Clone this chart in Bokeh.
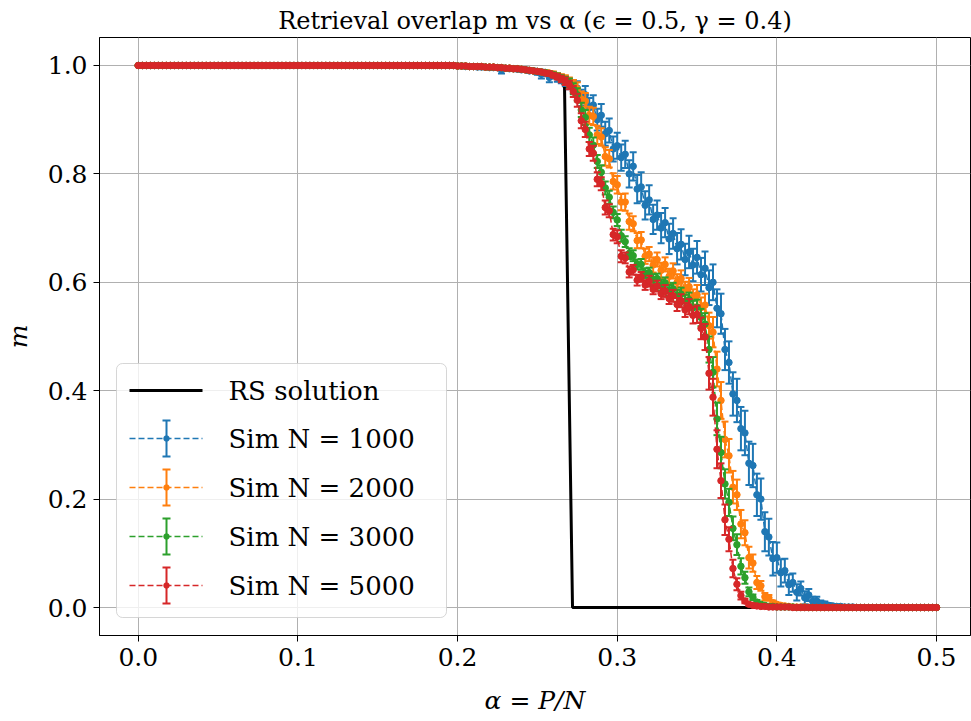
import numpy as np
from bokeh.plotting import figure
from bokeh.models import (Range1d, FixedTicker, NumeralTickFormatter, BoxAnnotation,
                          Label, Arrow, TeeHead)
from bokeh.embed import file_html
from bokeh.resources import INLINE

FONT = "DejaVu Serif"

# ---------------- data ----------------
# alpha grid: 0.0000 ... 0.5000, step 0.0025 (201 points)
alpha = np.round(np.arange(201) * 0.0025, 4)

# flat head (alpha 0.0000 - 0.1975): all simulations retrieve perfectly
m_head = [1.0, 1.0, 1.0, 1.0, 1.0, 1.0, 1.0, 1.0, 1.0, 1.0,
          1.0, 1.0, 1.0, 1.0, 1.0, 1.0, 1.0, 1.0, 1.0, 1.0,
          1.0, 1.0, 1.0, 1.0, 1.0, 1.0, 1.0, 1.0, 1.0, 1.0,
          1.0, 1.0, 1.0, 1.0, 1.0, 1.0, 1.0, 1.0, 1.0, 1.0,
          1.0, 1.0, 1.0, 1.0, 1.0, 1.0, 1.0, 1.0, 1.0, 1.0,
          1.0, 1.0, 1.0, 1.0, 1.0, 1.0, 1.0, 1.0, 1.0, 1.0,
          1.0, 1.0, 1.0, 1.0, 1.0, 1.0, 1.0, 1.0, 1.0, 1.0,
          1.0, 1.0, 1.0, 1.0, 1.0, 1.0, 1.0, 1.0, 1.0, 1.0]
e_head = [0.0, 0.0, 0.0, 0.0, 0.0, 0.0, 0.0, 0.0, 0.0, 0.0,
          0.0, 0.0, 0.0, 0.0, 0.0, 0.0, 0.0, 0.0, 0.0, 0.0,
          0.0, 0.0, 0.0, 0.0, 0.0, 0.0, 0.0, 0.0, 0.0, 0.0,
          0.0, 0.0, 0.0, 0.0, 0.0, 0.0, 0.0, 0.0, 0.0, 0.0,
          0.0, 0.0, 0.0, 0.0, 0.0, 0.0, 0.0, 0.0, 0.0, 0.0,
          0.0, 0.0, 0.0, 0.0, 0.0, 0.0, 0.0, 0.0, 0.0, 0.0,
          0.0, 0.0, 0.0, 0.0, 0.0, 0.0, 0.0, 0.0, 0.0, 0.0,
          0.0, 0.0, 0.0, 0.0, 0.0, 0.0, 0.0, 0.0, 0.0, 0.0]
# flat tail (alpha 0.4525 - 0.5000)
m_tail = [0.0, 0.0, 0.0, 0.0, 0.0, 0.0, 0.0, 0.0, 0.0, 0.0,
          0.0, 0.0, 0.0, 0.0, 0.0, 0.0, 0.0, 0.0, 0.0, 0.0]
e_tail = [0.0, 0.0, 0.0, 0.0, 0.0, 0.0, 0.0, 0.0, 0.0, 0.0,
          0.0, 0.0, 0.0, 0.0, 0.0, 0.0, 0.0, 0.0, 0.0, 0.0]

# transition region alpha 0.2000 - 0.4500 (101 points), rows of 10
m_1000 = [0.999, 0.999, 0.998, 0.998, 0.998, 0.997, 0.997, 0.997, 0.996, 0.996,
          0.996, 0.992, 0.995, 0.994, 0.994, 0.993, 0.992, 0.992, 0.990, 0.990,
          0.988, 0.984, 0.986, 0.978, 0.982, 0.978, 0.975, 0.971, 0.966, 0.961,
          0.958, 0.940, 0.946, 0.922, 0.927, 0.900, 0.908, 0.874, 0.880, 0.846,
          0.852, 0.830, 0.836, 0.800, 0.814, 0.772, 0.776, 0.742, 0.752, 0.716,
          0.724, 0.700, 0.710, 0.680, 0.690, 0.662, 0.670, 0.642, 0.656, 0.632,
          0.646, 0.614, 0.626, 0.590, 0.600, 0.552, 0.542, 0.476, 0.452, 0.394,
          0.382, 0.330, 0.322, 0.266, 0.262, 0.208, 0.200, 0.140, 0.130, 0.090,
          0.092, 0.064, 0.068, 0.042, 0.046, 0.028, 0.035, 0.018, 0.023, 0.011,
          0.012, 0.007, 0.006, 0.004, 0.003, 0.002, 0.002, 0.001, 0.001, 0.001,
          0.000]
e_1000 = [0.001, 0.001, 0.002, 0.001, 0.002, 0.002, 0.002, 0.002, 0.002, 0.002,
          0.002, 0.007, 0.002, 0.003, 0.003, 0.003, 0.003, 0.004, 0.004, 0.004,
          0.005, 0.008, 0.005, 0.009, 0.006, 0.008, 0.008, 0.009, 0.010, 0.012,
          0.013, 0.015, 0.016, 0.018, 0.018, 0.020, 0.021, 0.022, 0.022, 0.023,
          0.024, 0.024, 0.025, 0.025, 0.026, 0.026, 0.027, 0.026, 0.027, 0.027,
          0.027, 0.028, 0.027, 0.028, 0.028, 0.029, 0.028, 0.029, 0.030, 0.030,
          0.030, 0.031, 0.031, 0.032, 0.033, 0.035, 0.037, 0.038, 0.039, 0.040,
          0.040, 0.040, 0.041, 0.040, 0.040, 0.039, 0.038, 0.036, 0.034, 0.031,
          0.028, 0.025, 0.022, 0.019, 0.017, 0.015, 0.013, 0.012, 0.011, 0.009,
          0.008, 0.006, 0.005, 0.004, 0.003, 0.002, 0.002, 0.001, 0.001, 0.001,
          0.001]

m_2000 = [0.999, 0.999, 0.999, 0.998, 0.998, 0.998, 0.998, 0.997, 0.997, 0.997,
          0.996, 0.996, 0.995, 0.995, 0.994, 0.994, 0.993, 0.992, 0.991, 0.990,
          0.989, 0.988, 0.987, 0.986, 0.984, 0.981, 0.978, 0.975, 0.970, 0.963,
          0.957, 0.938, 0.934, 0.908, 0.906, 0.872, 0.868, 0.832, 0.828, 0.786,
          0.780, 0.748, 0.748, 0.712, 0.708, 0.677, 0.678, 0.648, 0.652, 0.632,
          0.642, 0.622, 0.633, 0.611, 0.621, 0.600, 0.607, 0.585, 0.592, 0.570,
          0.577, 0.553, 0.558, 0.520, 0.508, 0.440, 0.382, 0.310, 0.280, 0.222,
          0.208, 0.154, 0.138, 0.092, 0.082, 0.046, 0.040, 0.020, 0.018, 0.009,
          0.006, 0.004, 0.003, 0.002, 0.001, 0.001, 0.001, 0.001, 0.000, 0.000,
          0.000, 0.000, 0.000, 0.000, 0.000, 0.000, 0.000, 0.000, 0.000, 0.000,
          0.000]
e_2000 = [0.001, 0.001, 0.001, 0.001, 0.001, 0.001, 0.001, 0.001, 0.001, 0.001,
          0.001, 0.001, 0.001, 0.001, 0.002, 0.002, 0.002, 0.002, 0.002, 0.002,
          0.003, 0.003, 0.004, 0.004, 0.005, 0.005, 0.006, 0.007, 0.008, 0.010,
          0.012, 0.014, 0.015, 0.016, 0.016, 0.017, 0.016, 0.017, 0.016, 0.015,
          0.016, 0.015, 0.016, 0.015, 0.014, 0.014, 0.015, 0.014, 0.013, 0.014,
          0.013, 0.014, 0.013, 0.014, 0.014, 0.015, 0.015, 0.016, 0.016, 0.017,
          0.018, 0.019, 0.021, 0.024, 0.028, 0.032, 0.034, 0.033, 0.031, 0.030,
          0.028, 0.026, 0.023, 0.020, 0.016, 0.012, 0.009, 0.007, 0.005, 0.004,
          0.003, 0.002, 0.002, 0.001, 0.001, 0.001, 0.001, 0.001, 0.001, 0.001,
          0.001, 0.001, 0.001, 0.001, 0.001, 0.001, 0.001, 0.001, 0.001, 0.001,
          0.001]

m_3000 = [0.999, 0.999, 0.999, 0.998, 0.998, 0.998, 0.998, 0.997, 0.997, 0.997,
          0.996, 0.996, 0.995, 0.995, 0.994, 0.994, 0.993, 0.992, 0.991, 0.990,
          0.989, 0.988, 0.987, 0.985, 0.983, 0.980, 0.977, 0.973, 0.968, 0.957,
          0.946, 0.918, 0.904, 0.872, 0.853, 0.823, 0.803, 0.774, 0.757, 0.729,
          0.715, 0.686, 0.675, 0.653, 0.649, 0.633, 0.633, 0.617, 0.618, 0.605,
          0.607, 0.595, 0.599, 0.585, 0.588, 0.575, 0.578, 0.565, 0.568, 0.553,
          0.554, 0.535, 0.523, 0.476, 0.434, 0.348, 0.286, 0.228, 0.194, 0.146,
          0.116, 0.076, 0.055, 0.029, 0.019, 0.010, 0.006, 0.004, 0.002, 0.002,
          0.001, 0.001, 0.001, 0.001, 0.001, 0.000, 0.000, 0.000, 0.000, 0.000,
          0.000, 0.000, 0.000, 0.000, 0.000, 0.000, 0.000, 0.000, 0.000, 0.000,
          0.000]
e_3000 = [0.001, 0.001, 0.001, 0.001, 0.001, 0.001, 0.001, 0.001, 0.001, 0.001,
          0.001, 0.001, 0.001, 0.001, 0.002, 0.002, 0.002, 0.002, 0.002, 0.002,
          0.003, 0.003, 0.003, 0.004, 0.004, 0.005, 0.005, 0.006, 0.008, 0.010,
          0.012, 0.013, 0.014, 0.013, 0.014, 0.012, 0.013, 0.012, 0.012, 0.011,
          0.011, 0.011, 0.010, 0.010, 0.010, 0.009, 0.010, 0.009, 0.009, 0.010,
          0.009, 0.010, 0.010, 0.010, 0.011, 0.011, 0.012, 0.012, 0.013, 0.013,
          0.014, 0.016, 0.020, 0.024, 0.028, 0.030, 0.029, 0.027, 0.025, 0.022,
          0.019, 0.015, 0.011, 0.008, 0.005, 0.004, 0.003, 0.002, 0.002, 0.001,
          0.001, 0.001, 0.001, 0.001, 0.001, 0.001, 0.001, 0.001, 0.001, 0.001,
          0.001, 0.001, 0.001, 0.001, 0.001, 0.001, 0.001, 0.001, 0.001, 0.001,
          0.001]

m_5000 = [0.999, 0.999, 0.999, 0.998, 0.998, 0.998, 0.998, 0.997, 0.997, 0.997,
          0.996, 0.996, 0.995, 0.995, 0.994, 0.994, 0.993, 0.992, 0.991, 0.990,
          0.989, 0.988, 0.986, 0.985, 0.982, 0.979, 0.975, 0.971, 0.964, 0.952,
          0.936, 0.898, 0.882, 0.846, 0.838, 0.790, 0.782, 0.738, 0.732, 0.688,
          0.684, 0.648, 0.645, 0.619, 0.623, 0.604, 0.610, 0.595, 0.602, 0.587,
          0.593, 0.579, 0.584, 0.570, 0.575, 0.559, 0.566, 0.549, 0.555, 0.539,
          0.541, 0.515, 0.499, 0.432, 0.388, 0.292, 0.234, 0.162, 0.126, 0.072,
          0.043, 0.022, 0.012, 0.006, 0.004, 0.003, 0.002, 0.002, 0.001, 0.001,
          0.001, 0.001, 0.001, 0.001, 0.000, 0.000, 0.000, 0.000, 0.000, 0.000,
          0.000, 0.000, 0.000, 0.000, 0.000, 0.000, 0.000, 0.000, 0.000, 0.000,
          0.000]
e_5000 = [0.001, 0.001, 0.001, 0.001, 0.001, 0.001, 0.001, 0.001, 0.001, 0.001,
          0.001, 0.001, 0.001, 0.001, 0.002, 0.002, 0.002, 0.002, 0.002, 0.002,
          0.003, 0.003, 0.003, 0.004, 0.004, 0.005, 0.006, 0.007, 0.008, 0.010,
          0.012, 0.014, 0.014, 0.013, 0.014, 0.013, 0.012, 0.013, 0.012, 0.011,
          0.012, 0.011, 0.010, 0.010, 0.009, 0.010, 0.009, 0.009, 0.010, 0.009,
          0.010, 0.010, 0.011, 0.010, 0.011, 0.012, 0.012, 0.013, 0.014, 0.015,
          0.016, 0.020, 0.024, 0.030, 0.034, 0.035, 0.032, 0.028, 0.022, 0.016,
          0.011, 0.007, 0.004, 0.003, 0.002, 0.002, 0.001, 0.001, 0.001, 0.001,
          0.001, 0.001, 0.001, 0.001, 0.001, 0.001, 0.001, 0.001, 0.001, 0.001,
          0.001, 0.001, 0.001, 0.001, 0.001, 0.001, 0.001, 0.001, 0.001, 0.001,
          0.001]

# replica-symmetric theory curve
rs_alpha = [0.0, 0.05, 0.10, 0.15, 0.20, 0.22, 0.24, 0.25, 0.26, 0.265, 0.267,
            0.272, 0.30, 0.35, 0.40, 0.45, 0.50]
rs_m = [1.0, 1.0, 1.0, 1.0, 0.999, 0.997, 0.993, 0.989, 0.982, 0.972, 0.959,
        0.0, 0.0, 0.0, 0.0, 0.0, 0.0]

series_labels = ["Sim N = 1000", "Sim N = 2000", "Sim N = 3000", "Sim N = 5000"]
series_colors = ["#1f77b4", "#ff7f0e", "#2ca02c", "#d62728"]
series_m = [m_1000, m_2000, m_3000, m_5000]
series_e = [e_1000, e_2000, e_3000, e_5000]

x_ticks = [0.0, 0.1, 0.2, 0.3, 0.4, 0.5]
y_ticks = [0.0, 0.2, 0.4, 0.6, 0.8, 1.0]

title_text = "Retrieval overlap m vs α (ϵ = 0.5, γ = 0.4)"

# ---------------- figure ----------------
p = figure(width=971, height=721, output_backend="svg", toolbar_location=None,
           x_range=Range1d(-0.0243, 0.5213), y_range=Range1d(-0.0516, 1.0516),
           min_border_left=95, min_border_right=1, min_border_top=37,
           min_border_bottom=86)
p.background_fill_color = "white"
p.border_fill_color = "white"
p.outline_line_color = "black"
p.outline_line_width = 1
p.outline_line_alpha = 1.0

p.title.text = title_text
p.title.align = "center"
p.title.text_font = FONT
p.title.text_font_size = "24px"
p.title.text_font_style = "normal"
p.title.text_color = "black"
p.title.standoff = 5

p.xaxis.ticker = FixedTicker(ticks=x_ticks)
p.yaxis.ticker = FixedTicker(ticks=y_ticks)
p.axis.formatter = NumeralTickFormatter(format="0.0")
p.axis.minor_tick_line_color = None
p.axis.major_tick_in = 0
p.axis.major_tick_out = 6
p.axis.major_tick_line_color = "black"
p.axis.axis_line_color = "black"
p.axis.major_label_text_font = FONT
p.axis.major_label_text_font_size = "25px"
p.axis.major_label_text_color = "black"
p.axis.major_label_standoff = 6
p.axis.axis_label_text_font = FONT
p.axis.axis_label_text_font_size = "25px"
p.axis.axis_label_text_font_style = "italic"
p.axis.axis_label_text_color = "black"
p.xaxis.axis_label_standoff = 17
p.yaxis.axis_label_standoff = 12
p.xaxis.axis_label = "α = P/N"
p.yaxis.axis_label = "m"

p.grid.grid_line_color = "#b0b0b0"
p.grid.grid_line_width = 1

# RS solution
p.line(rs_alpha, rs_m, line_color="black", line_width=3)

# simulations with error bars
for m_mid, e_mid, col in zip(series_m, series_e, series_colors):
    m = np.array(m_head + m_mid + m_tail)
    e = np.array(e_head + e_mid + e_tail)
    assert len(m) == len(alpha) and len(e) == len(alpha)
    p.line(alpha, m, line_color=col, line_width=1.5, line_dash="6 3")
    p.segment(x0=alpha, y0=m - e, x1=alpha, y1=m + e, line_color=col, line_width=2)
    p.scatter(alpha, m + e, marker="dash", size=7, line_color=col, line_width=2)
    p.scatter(alpha, m - e, marker="dash", size=7, line_color=col, line_width=2)
    p.scatter(alpha, m, marker="circle", size=6.5, fill_color=col, line_color=col)

# ---------------- legend (screen units, relative to the frame) ----------------
box = BoxAnnotation(left=17, right=347, bottom=18, top=272,
                    left_units="screen", right_units="screen",
                    bottom_units="screen", top_units="screen",
                    fill_color="white", fill_alpha=0.8,
                    line_color="#cccccc", line_alpha=0.8, line_width=1,
                    border_radius=6)
p.add_layout(box)

leg_x0, leg_x1, leg_xc, leg_tx = 30, 103, 67, 129
p.add_layout(Arrow(start=None, end=None, x_start=leg_x0, y_start=245, x_end=leg_x1, y_end=245,
                   start_units="screen", end_units="screen",
                   line_color="black", line_width=3))
p.add_layout(Label(x=leg_tx, y=245, x_units="screen", y_units="screen", text="RS solution",
                   text_font=FONT, text_font_size="26px", text_baseline="middle",
                   text_color="black"))
item_y = [197, 148, 99, 50]
for yy, lab, col in zip(item_y, series_labels, series_colors):
    p.add_layout(Arrow(start=None, end=None, x_start=leg_x0, y_start=yy, x_end=leg_x1, y_end=yy,
                       start_units="screen", end_units="screen",
                       line_color=col, line_width=1.6, line_dash="6 3"))
    p.add_layout(Arrow(start=TeeHead(size=8, line_color=col, line_width=1.8),
                       end=TeeHead(size=8, line_color=col, line_width=1.8),
                       x_start=leg_xc, y_start=yy - 18, x_end=leg_xc, y_end=yy + 18,
                       start_units="screen", end_units="screen",
                       line_color=col, line_width=2))
    p.add_layout(BoxAnnotation(left=leg_xc - 3, right=leg_xc + 3, bottom=yy - 3, top=yy + 3,
                               left_units="screen", right_units="screen",
                               bottom_units="screen", top_units="screen",
                               fill_color=col, fill_alpha=1.0, line_color=col,
                               border_radius=3))
    p.add_layout(Label(x=leg_tx, y=yy, x_units="screen", y_units="screen", text=lab,
                       text_font=FONT, text_font_size="26px", text_baseline="middle",
                       text_color="black"))

open("out.html", "w").write(file_html(p, INLINE))
